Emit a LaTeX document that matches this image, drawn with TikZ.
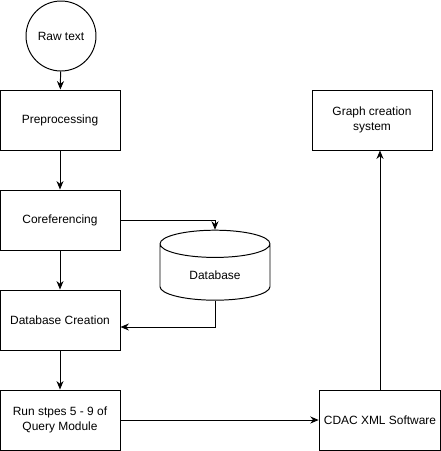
\documentclass[tikz,border=0pt]{standalone}
\usepackage{tikz}
\usetikzlibrary{shapes.geometric, positioning, arrows.meta}
\usepackage{xcolor}
\usepackage{fontspec}
\setmainfont{Liberation Sans}

\begin{document}
\begin{tikzpicture}[
            box/.style={rectangle, draw=black, fill=white, line width=0.7pt, minimum width=3cm, minimum height=1.5cm, align=center, font=\fontsize{8.5}{10.5}\selectfont},
            arrow/.style={-{Stealth[length=6pt, width=5pt]}, line width=0.7pt}
        ]
            \useasboundingbox (0,0) rectangle (11.025,-11.275);
            % Nodes
            \node[circle, draw=black, line width=0.7pt, minimum size=1.75cm, font=\fontsize{8.5}{10.5}\selectfont] (raw) at (1.525,-0.9) {Raw text};
            \node[box] (prep) at (1.5,-3) {Preprocessing};
            \node[box] (coref) at (1.5,-5.5) {Coreferencing};
            \node[box] (dbc) at (1.5,-8) {Database Creation};
            \node[box] (run) at (1.5,-10.5) {Run stpes 5 - 9 of\\Query Module};
            \node[box] (cdac) at (9.5,-10.5) {CDAC XML Software};
            \node[box] (graph) at (9.3,-3) {Graph creation\\system};
            \node[cylinder, shape border rotate=90, aspect=0.45, draw=black, line width=0.7pt, minimum width=2.75cm, minimum height=1.75cm, font=\fontsize{8.5}{10.5}\selectfont] (db) at (5.375,-6.875) {Database};
            
            % Arrows
            \draw[arrow] (raw) -- (prep);
            \draw[arrow] (prep) -- (coref);
            \draw[arrow] (coref) -- (dbc);
            \draw[arrow] (dbc) -- (run);
            \draw[arrow] (coref.east) -| (db.north);
            \draw[arrow] (db.south) |- ([yshift=-0.175cm]dbc.east);
            \draw[arrow] (run) -- (cdac);
            \draw[arrow] (cdac.north) -- (cdac.north |- graph.south);
        \end{tikzpicture}
\end{document}
